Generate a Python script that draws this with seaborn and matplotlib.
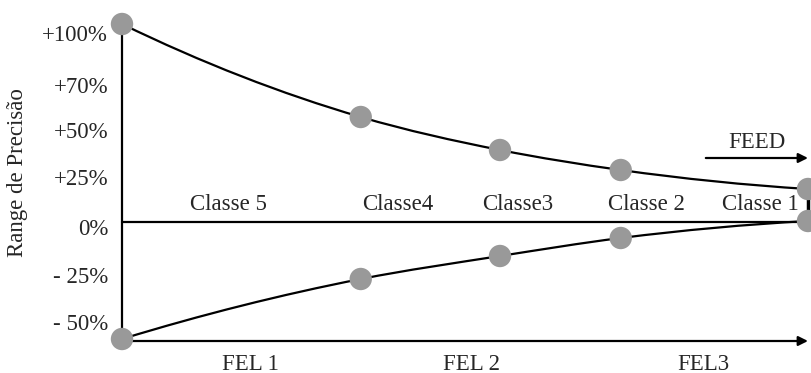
import pandas as pd
import matplotlib.pyplot as plt
from matplotlib.path import Path
from matplotlib.patches import PathPatch
import seaborn as sns

# chart values (schematic scale: 0 = the 0% line)

classes = ["Classe 5", "Classe4", "Classe3", "Classe 2", "Classe 1"]
class_x = [0.0, 0.348, 0.551, 0.727, 1.0]
upper = [198, 105, 72, 52, 33]
lower = [-117, -57, -34, -16, 1]
tick_labels = ["+100%", "+70%", "+50%", "+25%", "0%", "- 25%", "- 50%"]
tick_values = [189, 137, 92, 45, -5, -53, -100]
phases = ["FEL 1", "FEL 2", "FEL3"]

# layout

class_label_x = [0.155, 0.402, 0.577, 0.765, 0.930]
phase_label_x = [0.187, 0.510, 0.847]

sns.set_style("white")
plt.rcParams["font.family"] = ["Liberation Serif", "DejaVu Serif"]
fs = 16.5

fig = plt.figure(figsize=(8.11, 3.73), dpi=100)
ax = fig.add_axes([122 / 811, 32 / 373, 689 / 811, 341 / 373])

df = pd.DataFrame({
    "x": class_x * 2,
    "y": upper + lower,
    "curve": ["upper"] * 5 + ["lower"] * 5,
})


# smooth curve through the points, drawn as cubic bezier segments
def smooth_path(xs, ys):
    n = len(xs)
    h = [xs[i + 1] - xs[i] for i in range(n - 1)]
    d = [(ys[i + 1] - ys[i]) / h[i] for i in range(n - 1)]
    m = [0.0] * n
    for i in range(1, n - 1):
        m[i] = (h[i] * d[i - 1] + h[i - 1] * d[i]) / (h[i - 1] + h[i])
    m[0] = 2 * d[0] - m[1]
    m[-1] = 2 * d[-1] - m[-2]
    verts = [(xs[0], ys[0])]
    codes = [Path.MOVETO]
    for i in range(n - 1):
        verts += [(xs[i] + h[i] / 3, ys[i] + m[i] * h[i] / 3),
                  (xs[i + 1] - h[i] / 3, ys[i + 1] - m[i + 1] * h[i] / 3),
                  (xs[i + 1], ys[i + 1])]
        codes += [Path.CURVE4] * 3
    return Path(verts, codes)


for name, grp in df.groupby("curve"):
    ax.add_patch(PathPatch(smooth_path(grp["x"].tolist(), grp["y"].tolist()),
                           facecolor="none", edgecolor="black", linewidth=1.6))

# axis lines
ax.plot([0, 0], [upper[0], -119], color="black", linewidth=1.6, clip_on=False)
ax.plot([0, 1.0], [0, 0], color="black", linewidth=1.6, clip_on=False)
ax.plot([1.0, 1.0], [lower[-1], upper[-1]], color="black", linewidth=2.5, clip_on=False)
ax.annotate("", xy=(1.004, -119), xytext=(0, -119),
            arrowprops=dict(arrowstyle="-|>", color="black", lw=1.6, mutation_scale=14),
            annotation_clip=False)
ax.annotate("", xy=(1.004, 64), xytext=(0.847, 64),
            arrowprops=dict(arrowstyle="-|>", color="black", lw=1.6, mutation_scale=14),
            annotation_clip=False)
ax.text(0.925, 80, "FEED", ha="center", va="center", fontsize=fs)

sns.scatterplot(data=df, x="x", y="y", color="#999999", s=260, edgecolor="none",
                ax=ax, legend=False, zorder=5, clip_on=False)

for label, lx in zip(classes, class_label_x):
    ax.text(lx, 17, label, ha="center", va="center", fontsize=fs)
for label, lx in zip(phases, phase_label_x):
    ax.text(lx, -142, label, ha="center", va="center", fontsize=fs, clip_on=False)

ax.set_xlim(0, 689 / 686)
ax.set_ylim(-119, 222)
ax.set_xticks([])
ax.set_yticks(tick_values)
ax.set_yticklabels(tick_labels, fontsize=fs)
ax.tick_params(axis="y", length=0, pad=10)
ax.set_xlabel("")
ax.set_ylabel("Range de Precisão", fontsize=fs)
ax.yaxis.set_label_coords(-0.136, 0.493)
for s in ax.spines.values():
    s.set_visible(False)

fig.savefig("out.png", dpi=100)
